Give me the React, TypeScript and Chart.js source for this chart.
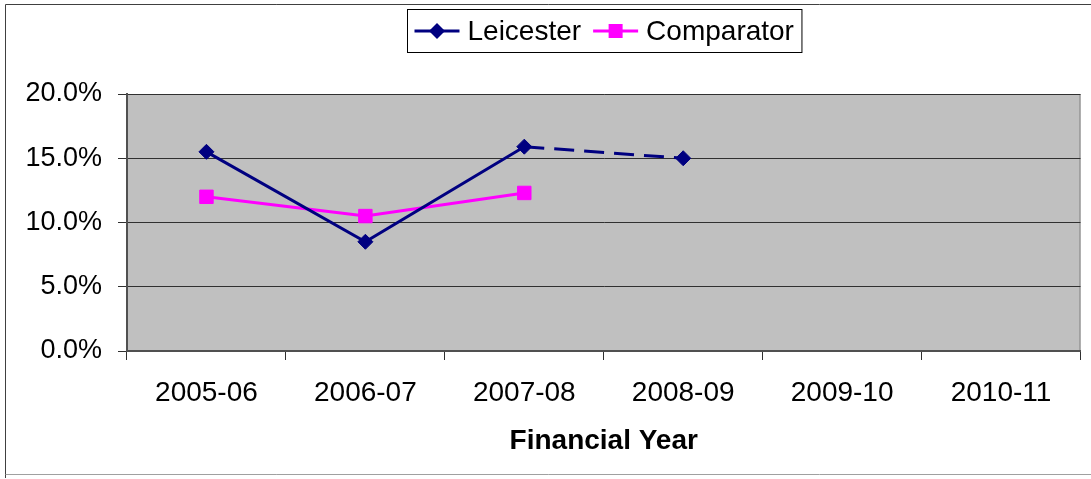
import React, { useEffect, useRef } from 'react';
import { Chart, registerables } from 'chart.js';

Chart.register(...registerables);

const FONT = "'Liberation Sans', Arial, sans-serif";

const categories = ['2005-06', '2006-07', '2007-08', '2008-09', '2009-10', '2010-11'];
const leicesterValues = [15.5, 8.5, 15.9, 15.0, null, null];
const comparatorValues = [12.0, 10.5, 12.3, null, null, null];
const yMin = 0;
const yMax = 20;
const yStep = 5;
const xTitle = 'Financial Year';

const plotBgPlugin = {
  id: 'plotBg',
  beforeDraw(chart: any) {
    const { ctx, chartArea: a } = chart;
    ctx.save();
    ctx.fillStyle = '#C0C0C0';
    ctx.fillRect(a.left, a.top, a.right - a.left, a.bottom - a.top);
    ctx.strokeStyle = '#808080';
    ctx.lineWidth = 1;
    ctx.beginPath();
    ctx.moveTo(a.right - 0.5, a.top);
    ctx.lineTo(a.right - 0.5, a.bottom);
    ctx.stroke();
    ctx.restore();
  },
};

const frameLegendPlugin = {
  id: 'frameLegend',
  afterDraw(chart: any) {
    const { ctx, chartArea: a } = chart;
    ctx.save();
    // outer frame
    ctx.lineWidth = 1;
    ctx.strokeStyle = '#404040';
    ctx.beginPath();
    ctx.moveTo(5.5, 478);
    ctx.lineTo(5.5, 4.5);
    ctx.lineTo(1091, 4.5);
    ctx.stroke();
    ctx.strokeStyle = '#A0A0A0';
    ctx.beginPath();
    ctx.moveTo(5.5, 474.5);
    ctx.lineTo(1091, 474.5);
    ctx.stroke();

    // legend
    ctx.font = `28px ${FONT}`;
    const ds = chart.data.datasets;
    const lineLen = 45;
    const gapText = 8;
    const itemGap = 12;
    const padL = 7;
    const padR = 8;
    const widths = ds.map((d: any) => lineLen + gapText + ctx.measureText(d.label).width);
    const total = padL + padR + widths.reduce((s: number, w: number) => s + w, 0) + itemGap * (ds.length - 1);
    const cx = (a.left + a.right) / 2;
    const boxX = Math.round(cx - total / 2) + 0.5;
    const boxY = 9.5;
    const boxH = 43;
    ctx.fillStyle = '#FFFFFF';
    ctx.fillRect(boxX, boxY, total, boxH);
    ctx.strokeStyle = '#000000';
    ctx.lineWidth = 1;
    ctx.strokeRect(boxX, boxY, total, boxH);
    const cy = boxY + boxH / 2;
    let x = boxX + padL;
    ds.forEach((d: any, i: number) => {
      ctx.strokeStyle = d.borderColor;
      ctx.lineWidth = d.borderWidth;
      ctx.beginPath();
      ctx.moveTo(x, cy);
      ctx.lineTo(x + lineLen, cy);
      ctx.stroke();
      const mx = x + lineLen / 2;
      ctx.fillStyle = d.pointBackgroundColor;
      ctx.beginPath();
      if (d.pointStyle === 'rectRot') {
        const r = 8;
        ctx.moveTo(mx - r, cy);
        ctx.lineTo(mx, cy - r);
        ctx.lineTo(mx + r, cy);
        ctx.lineTo(mx, cy + r);
        ctx.closePath();
      } else {
        const h = 7;
        ctx.rect(mx - h, cy - h, 2 * h, 2 * h);
      }
      ctx.fill();
      ctx.fillStyle = '#000000';
      ctx.textBaseline = 'middle';
      ctx.textAlign = 'left';
      ctx.fillText(d.label, x + lineLen + gapText, cy + 1);
      x += widths[i] + itemGap;
    });
    ctx.restore();
  },
};

export default function App() {
  const ref = useRef<HTMLCanvasElement | null>(null);

  useEffect(() => {
    if (!ref.current) return;
    const chart = new Chart(ref.current, {
      type: 'line',
      data: {
        labels: categories,
        datasets: [
          {
            label: 'Leicester',
            data: leicesterValues,
            borderColor: '#000080',
            backgroundColor: '#000080',
            pointBackgroundColor: '#000080',
            pointBorderColor: '#000080',
            borderWidth: 3,
            pointStyle: 'rectRot',
            pointRadius: 7.5,
            pointBorderWidth: 1,
            tension: 0,
            spanGaps: false,
            segment: {
              borderDash: (ctx: any) => (ctx.p0DataIndex === 2 ? [20, 10] : undefined),
            },
          },
          {
            label: 'Comparator',
            data: comparatorValues,
            borderColor: '#FF00FF',
            backgroundColor: '#FF00FF',
            pointBackgroundColor: '#FF00FF',
            pointBorderColor: '#FF00FF',
            borderWidth: 3,
            pointStyle: 'rect',
            pointRadius: 9.5,
            pointBorderWidth: 1,
            tension: 0,
          },
        ],
      },
      options: {
        responsive: false,
        animation: false,
        layout: { padding: { top: 94, right: 8, left: 0, bottom: 0 } },
        plugins: {
          legend: { display: false },
          tooltip: { enabled: false },
        },
        scales: {
          x: {
            offset: true,
            afterFit: (s: any) => {
              s.height = 128;
            },
            grid: {
              offset: true,
              drawOnChartArea: false,
              drawTicks: true,
              tickLength: 9,
              color: '#303030',
              lineWidth: 1,
            },
            border: { display: true, color: '#505050', width: 2 },
            ticks: {
              color: '#000000',
              font: { family: FONT, size: 28 },
              padding: 16,
              maxRotation: 0,
              autoSkip: false,
            },
            title: {
              display: true,
              text: xTitle,
              color: '#000000',
              font: { family: FONT, size: 28, weight: 'bold' },
              padding: { top: 0, bottom: 21 },
            },
          },
          y: {
            min: yMin,
            max: yMax,
            afterFit: (s: any) => {
              s.width = 127;
            },
            grid: {
              color: '#303030',
              lineWidth: 1,
              drawTicks: true,
              tickLength: 9,
            },
            border: { display: true, color: '#505050', width: 2 },
            ticks: {
              stepSize: yStep,
              color: '#000000',
              font: { family: FONT, size: 27 },
              padding: 16,
              callback: (v: any) => Number(v).toFixed(1) + '%',
            },
          },
        },
      },
      plugins: [plotBgPlugin, frameLegendPlugin],
    } as any);
    return () => chart.destroy();
  }, []);

  return (
    <div style={{ position: 'fixed', left: 0, top: 0, width: 1091, height: 479, background: '#FFFFFF' }}>
      <canvas ref={ref} width={1091} height={479} style={{ display: 'block', width: 1091, height: 479 }} />
    </div>
  );
}
